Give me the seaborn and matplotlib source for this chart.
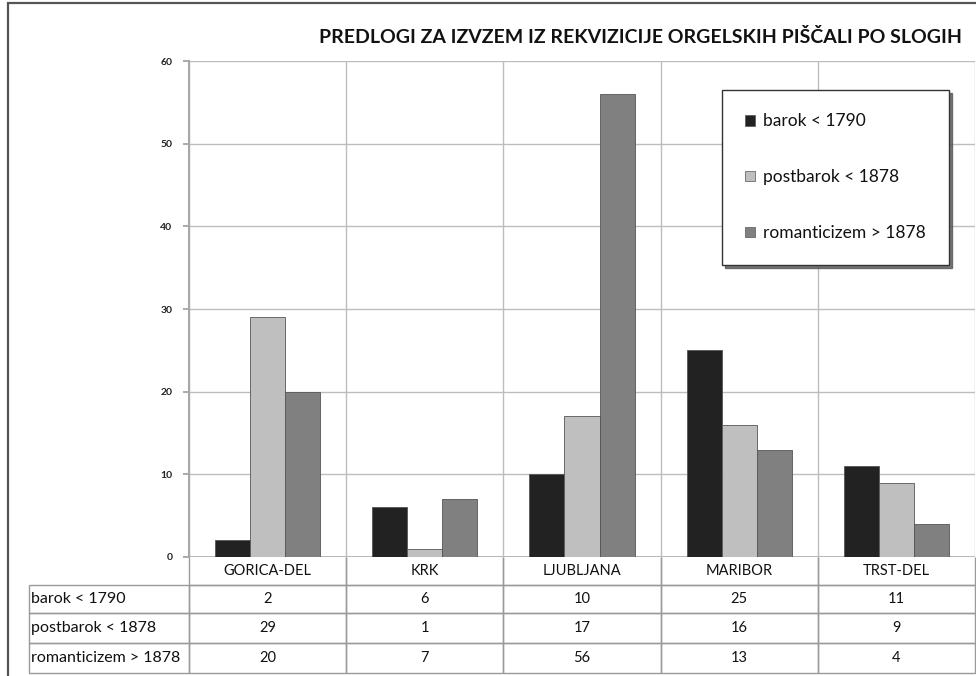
import numpy as np
import pandas as pd
import matplotlib
matplotlib.use('Agg')
import matplotlib.pyplot as plt
import seaborn as sns
from matplotlib.table import Table
from matplotlib.patches import Rectangle

# data
mesta = ['GORICA-DEL', 'KRK', 'LJUBLJANA', 'MARIBOR', 'TRST-DEL']
slogi = ['barok < 1790', 'postbarok < 1878', 'romanticizem > 1878']
barok = [2, 6, 10, 25, 11]
postbarok = [29, 1, 17, 16, 9]
romanticizem = [20, 7, 56, 13, 4]
y_ticks = [0, 10, 20, 30, 40, 50, 60]
naslov = 'PREDLOGI ZA IZVZEM IZ REKVIZICIJE ORGELSKIH PIŠČALI PO SLOGIH'

barve = ['#222222', '#bfbfbf', '#808080']

df = pd.DataFrame({
    'mesto': mesta * 3,
    'slog': [slogi[0]] * 5 + [slogi[1]] * 5 + [slogi[2]] * 5,
    'stevilo': barok + postbarok + romanticizem,
})

sns.set_theme(style='white')
plt.rcParams['font.family'] = ['Lato', 'DejaVu Sans']

W, H = 976, 676
fig = plt.figure(figsize=(W / 100, H / 100), dpi=100)
fig.patch.set_facecolor('white')

# plot area in pixels
x0, x1, y_top, y_bot = 189, 975, 61, 557
ax = fig.add_axes([x0 / W, 1 - y_bot / H, (x1 - x0) / W, (y_bot - y_top) / H])

sns.barplot(data=df, x='mesto', y='stevilo', hue='slog', order=mesta, hue_order=slogi,
            palette=barve, saturation=1, width=0.67, edgecolor='#555555', linewidth=0.6,
            ax=ax, legend=False)

ax.set_ylim(0, 60)
ax.set_xlim(-0.5, len(mesta) - 0.5)
ax.set_yticks(y_ticks)
ax.set_yticklabels([str(t) for t in y_ticks], fontsize=7.5, fontweight='bold', color='#222222')
ax.set_xticks([])
ax.set_xticks(np.arange(-0.5, len(mesta)), minor=True)
ax.tick_params(axis='y', which='major', left=True, length=4, color='#a0a0a0', pad=8)
ax.tick_params(axis='x', which='minor', bottom=False)
ax.set_xlabel('')
ax.set_ylabel('')
ax.grid(axis='y', which='major', color='#bdbdbd', linewidth=1)
ax.grid(axis='x', which='minor', color='#bdbdbd', linewidth=1)
ax.set_axisbelow(True)
for s in ['top', 'right', 'bottom']:
    ax.spines[s].set_visible(False)
ax.spines['left'].set_color('#a8a8a8')
ax.spines['left'].set_linewidth(1.5)
ax.axhline(0, color='#a8a8a8', linewidth=1.2, zorder=0.5)

# legend with shadow
handles = [plt.Rectangle((0, 0), 1, 1, facecolor=c, edgecolor='#555555', linewidth=0.5) for c in barve]
leg = ax.legend(handles, slogi, loc='upper left',
                bbox_to_anchor=((722 - x0) / (x1 - x0), 1 - (90 - y_top) / (y_bot - y_top)),
                frameon=True, shadow={'color': '#555555', 'alpha': 0.8}, fancybox=False,
                fontsize=12.5, labelspacing=2.3, handlelength=0.55, handleheight=0.55,
                handletextpad=0.45, borderpad=1.35, borderaxespad=0)
leg.get_frame().set_edgecolor('#333333')
leg.get_frame().set_linewidth(1)
leg.get_frame().set_alpha(1)
for t in leg.get_texts():
    t.set_color('#111111')

# data table under the chart
tab_left = 29
label_w = x0 - tab_left
col_w = (x1 - x0) / len(mesta)
row_h = [28, 28, 30, 30]
tab = Table(ax, bbox=[(tab_left - x0) / (x1 - x0), -(673 - y_bot) / (y_bot - y_top),
                      (x1 - tab_left) / (x1 - x0), (673 - y_bot) / (y_bot - y_top)])
vrstice = [[''] + mesta,
           [slogi[0]] + [str(v) for v in barok],
           [slogi[1]] + [str(v) for v in postbarok],
           [slogi[2]] + [str(v) for v in romanticizem]]
for r, vrsta in enumerate(vrstice):
    for c, besedilo in enumerate(vrsta):
        w = label_w if c == 0 else col_w
        cell = tab.add_cell(r, c, w, row_h[r], text=besedilo,
                            loc='left' if c == 0 else 'center',
                            edgecolor='#9a9a9a', facecolor='none')
        cell.set_linewidth(1)
        cell.PAD = 0.01
        cell.get_text().set_fontsize(11.5 if c == 0 else 10.5)
        cell.get_text().set_color('#111111')
        if r == 0 and c == 0:
            cell.visible_edges = ''
        elif r == 0:
            cell.visible_edges = 'BLR'
tab.auto_set_font_size(False)
ax.add_table(tab)

# title
fig.text(962 / W, 1 - 37 / H, naslov, ha='right', va='center', fontsize=14,
         fontweight='bold', color='#111111')

# outer frame
fig.patches.append(Rectangle((8 / W, -0.05), 1.1, 1 - 3 / H + 0.05, transform=fig.transFigure,
                             fill=False, edgecolor='#555555', linewidth=1.6, clip_on=False))

fig.savefig('out.png', dpi=100, facecolor='white')
